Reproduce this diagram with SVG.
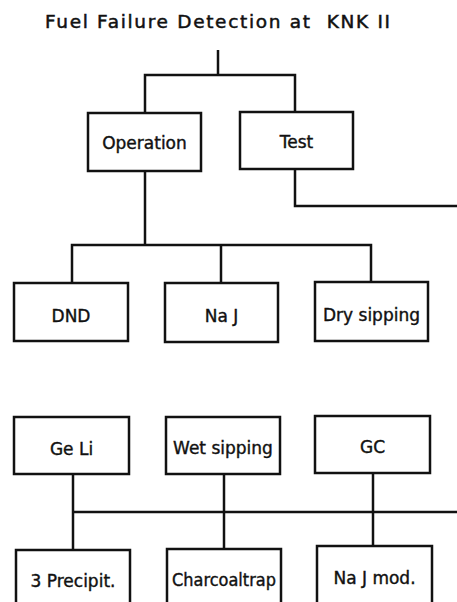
<svg xmlns="http://www.w3.org/2000/svg" width="457" height="602" viewBox="0 0 457 602">
<style>
.box{fill:#fff;stroke:#111;stroke-width:2.5}
.lbl{font-family:"DejaVu Sans",sans-serif;font-size:17px;fill:#111;stroke:#111;stroke-width:0.4;text-anchor:middle}
.ttl{font-family:"DejaVu Sans",sans-serif;font-size:18.5px;fill:#111;stroke:#111;stroke-width:0.5}
.con{fill:none;stroke:#111;stroke-width:2.5}
</style>
<rect width="457" height="602" fill="#fff"/>
<text class="ttl" x="45" y="28" textLength="345" lengthAdjust="spacing" xml:space="preserve">Fuel Failure Detection at  KNK II</text>
<g id="connectors">
<path class="con" d="M218,50 V75"/>
<path class="con" d="M145,113 V75 H295 V112"/>
<path class="con" d="M145,171 V245"/>
<path class="con" d="M72,283 V245 H371 V282"/>
<path class="con" d="M221,245 V283"/>
<path class="con" d="M295,169 V206 H457"/>
<path class="con" d="M73,474 V550"/>
<path class="con" d="M224,474 V549"/>
<path class="con" d="M373,473 V546"/>
<path class="con" d="M73,512 H457"/>
</g>
<g id="operation"><rect class="box" x="88" y="113" width="113" height="58"/><text class="lbl" x="144.5" y="149">Operation</text></g>
<g id="test"><rect class="box" x="240" y="112" width="113" height="57"/><text class="lbl" x="296.5" y="148">Test</text></g>
<g id="dnd"><rect class="box" x="14" y="283" width="114" height="58"/><text class="lbl" x="71" y="322">DND</text></g>
<g id="naj"><rect class="box" x="165" y="283" width="113" height="59"/><text class="lbl" x="221.5" y="322">Na J</text></g>
<g id="dry-sipping"><rect class="box" x="315" y="282" width="113" height="59"/><text class="lbl" x="371.5" y="321">Dry sipping</text></g>
<g id="geli"><rect class="box" x="14" y="417" width="115" height="57"/><text class="lbl" x="71.5" y="455">Ge Li</text></g>
<g id="wet-sipping"><rect class="box" x="166" y="417" width="114" height="57"/><text class="lbl" x="223" y="454">Wet sipping</text></g>
<g id="gc"><rect class="box" x="315" y="416" width="115" height="57"/><text class="lbl" x="372.5" y="453">GC</text></g>
<g id="precipit"><rect class="box" x="16" y="550" width="114" height="58"/><text class="lbl" x="73" y="587">3 Precipit.</text></g>
<g id="charcoaltrap"><rect class="box" x="167" y="549" width="114" height="58"/><text class="lbl" x="224" y="586" textLength="104" lengthAdjust="spacingAndGlyphs">Charcoaltrap</text></g>
<g id="naj-mod"><rect class="box" x="317" y="546" width="115" height="58"/><text class="lbl" x="374.5" y="584">Na J mod.</text></g>
</svg>
